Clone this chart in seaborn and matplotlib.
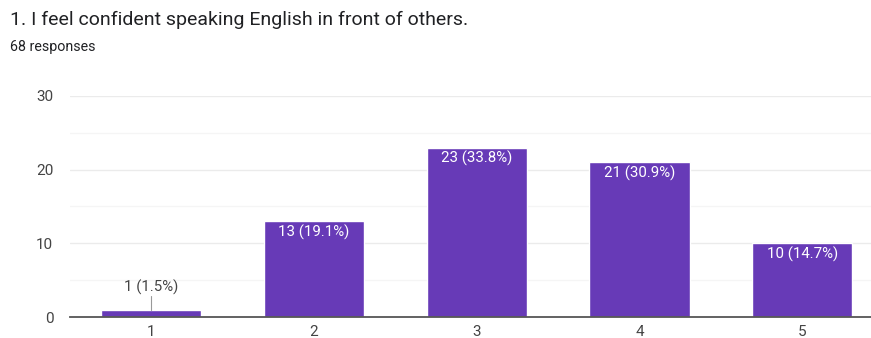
import matplotlib
matplotlib.use('Agg')
import matplotlib.pyplot as plt
import seaborn as sns
import pandas as pd

# Data
ratings = ['1', '2', '3', '4', '5']
counts = [1, 13, 23, 21, 10]
percents = ['1.5%', '19.1%', '33.8%', '30.9%', '14.7%']
title = '1. I feel confident speaking English in front of others.'
subtitle = '68 responses'

df = pd.DataFrame({'rating': ratings, 'count': counts})

sns.set_theme(style='white')
plt.rcParams['font.family'] = ['Roboto', 'DejaVu Sans']

fig = plt.figure(figsize=(8.71, 3.38), dpi=100)
ax = fig.add_axes([0.0804, 0.0621, 0.934, 0.654])

sns.barplot(data=df, x='rating', y='count', color='#673ab7', width=0.615,
            saturation=1, ax=ax, zorder=3)

ax.set_xlim(-0.5, 4.5)
ax.set_ylim(0, 30)
ax.set_yticks([0, 10, 20, 30])
ax.set_yticks([5, 15, 25], minor=True)
ax.grid(axis='y', which='major', color='#ebebeb', linewidth=1, zorder=0)
ax.grid(axis='y', which='minor', color='#f5f5f5', linewidth=1, zorder=0)
ax.set_xlabel('')
ax.set_ylabel('')
for s in ['top', 'right', 'left']:
    ax.spines[s].set_visible(False)
ax.spines['bottom'].set_color('#555555')
ax.spines['bottom'].set_linewidth(1.3)
ax.spines['bottom'].set_zorder(4)
ax.tick_params(axis='y', which='both', length=0, pad=12, labelsize=11, labelcolor='#444444')
ax.tick_params(axis='x', length=0, pad=6, labelsize=11, labelcolor='#444444')

# value labels
for p, c, pct in zip(ax.patches, counts, percents):
    xc = p.get_x() + p.get_width() / 2
    h = p.get_height()
    txt = f'{c} ({pct})'
    if h < 5:
        ax.plot([xc, xc], [h, h + 1.9], color='#999999', linewidth=0.8, zorder=4)
        ax.text(xc, h + 2.0, txt, ha='center', va='bottom', fontsize=10.8, color='#444444')
    else:
        ax.text(xc, h - 0.45, txt, ha='center', va='top', fontsize=10.8, color='white', zorder=5)

fig.text(0.0115, 0.94, title, fontsize=14, color='#202124', va='center', ha='left')
fig.text(0.0115, 0.86, subtitle, fontsize=10.3, color='#202124', va='center', ha='left')

fig.savefig('out.png', dpi=100)
